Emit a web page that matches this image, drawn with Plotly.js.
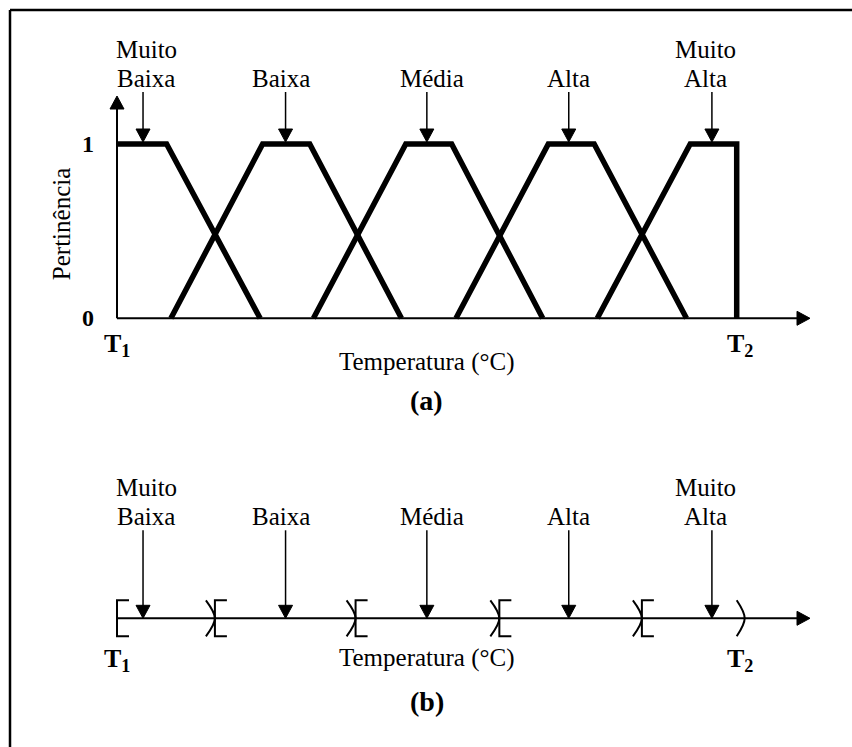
<!DOCTYPE html>
<html>
<head>
<meta charset="utf-8">
<script src="https://cdn.plot.ly/plotly-3.0.1.min.js"></script>
<style>html,body{margin:0;padding:0;background:#fff;}#chart{width:852px;height:747px;}</style>
</head>
<body>
<div id="chart"></div>
<script>
// ---- data (temperature scale: T1 = 0, T2 = 100) ----
const categories = ["Muito Baixa", "Baixa", "Média", "Alta", "Muito Alta"];
const muitoBaixaX = [0, 8.0, 23.1];
const muitoBaixaY = [1, 1, 0];
const baixaX = [8.7, 23.5, 31.1, 45.9];
const baixaY = [0, 1, 1, 0];
const mediaX = [31.7, 46.6, 54.0, 68.7];
const mediaY = [0, 1, 1, 0];
const altaX = [54.7, 69.6, 77.0, 91.9];
const altaY = [0, 1, 1, 0];
const muitoAltaX = [77.5, 92.5, 100, 100];
const muitoAltaY = [0, 1, 1, 0];
const centers = [4.2, 27.2, 50.0, 72.9, 96.0];          // arrows (plateau centres)
const boundaries = [0, 15.8, 38.5, 61.7, 84.7, 100];     // crisp interval limits (b)
const yTicks = [0, 1];
const yTickLabels = ["0", "1"];
const endLabels = ["T<sub>1</sub>", "T<sub>2</sub>"];
const xTitle = "Temperatura (°C)";
const yTitle = "Pertinência";
const panelLabels = ["(a)", "(b)"];

// ---- layout geometry ----
const W = 852, H = 747;
const X0PX = 117, PXU = 6.197;             // px of T1, px per unit
const xmin = -X0PX / PXU, xmax = (W - X0PX) / PXU;
const Y0PX = 318.3, Y1PX = 144, YPU = Y0PX - Y1PX;
const yRange = [-(H - Y0PX) / YPU, Y0PX / YPU];
const B0PX = 618.3;
const y2Range = [-(H - B0PX), B0PX];
const xEnd = (810 - X0PX) / PXU;
const yEnd = (Y0PX - 96) / YPU;
const FONT = "'Liberation Serif', 'Times New Roman', serif";
const labelShift = [3, -5, 5, 0, -6];
const u = px => px / PXU;

const traces = [];
[[muitoBaixaX, muitoBaixaY], [baixaX, baixaY], [mediaX, mediaY], [altaX, altaY], [muitoAltaX, muitoAltaY]]
  .forEach(([x, y], i) => traces.push({
    type: "scatter", mode: "lines", x: x, y: y, name: categories[i],
    line: {color: "#000", width: 5.5}, cliponaxis: false, hoverinfo: "skip"
  }));

// brackets on panel (b)
const BH = 18, SER = u(12), DEP = u(9);
const bLine = {color: "#000", width: 2};
boundaries.forEach((b, i) => {
  if (i > 0) {
    const last = i === boundaries.length - 1;
    const xe = last ? b : b - DEP, xa = last ? b + u(8) : b;
    traces.push({type: "scatter", mode: "lines", xaxis: "x", yaxis: "y2",
      x: [xe, xa, xe], y: [BH, 0, -BH], line: Object.assign({shape: "spline"}, bLine),
      cliponaxis: false, hoverinfo: "skip"});
  }
  if (i < boundaries.length - 1) {
    traces.push({type: "scatter", mode: "lines", xaxis: "x", yaxis: "y2",
      x: [b + SER, b, b, b + SER], y: [BH, BH, -BH, -BH], line: bLine,
      cliponaxis: false, hoverinfo: "skip"});
  }
});

// arrows: shaft + filled head, per y-axis
const HL = 13, HW = 7;  // head length / half-width in px
function arrows(list, yaxis, ypx, width) {
  const sx = [], sy = [], hx = [], hy = [];
  list.forEach(([tx, ty, dir, s0]) => {
    if (dir === "down") {
      sx.push(tx, tx, null); sy.push(s0, ty + HL * 0.5 * ypx, null);
      hx.push(tx - u(HW), tx + u(HW), tx, tx - u(HW), null);
      hy.push(ty + HL * ypx, ty + HL * ypx, ty, ty + HL * ypx, null);
    } else if (dir === "up") {
      sx.push(tx, tx, null); sy.push(s0, ty - HL * 0.5 * ypx, null);
      hx.push(tx - u(HW), tx + u(HW), tx, tx - u(HW), null);
      hy.push(ty - HL * ypx, ty - HL * ypx, ty, ty - HL * ypx, null);
    } else {
      sx.push(s0, tx - u(HL * 0.5), null); sy.push(ty, ty, null);
      hx.push(tx - u(HL), tx - u(HL), tx, tx - u(HL), null);
      hy.push(ty - HW * ypx, ty + HW * ypx, ty, ty - HW * ypx, null);
    }
  });
  traces.push({type: "scatter", mode: "lines", xaxis: "x", yaxis: yaxis, x: sx, y: sy,
    line: {color: "#000", width: width}, cliponaxis: false, hoverinfo: "skip"});
  traces.push({type: "scatter", mode: "lines", xaxis: "x", yaxis: yaxis, x: hx, y: hy,
    fill: "toself", fillcolor: "#000", line: {color: "#000", width: 1}, cliponaxis: false, hoverinfo: "skip"});
}
const ya = 1 / YPU, yb = 1;
arrows([[xEnd, 0, "right", 0], [0, yEnd, "up", 0]], "y", ya, 2);
arrows([[xEnd, 0, "right", 0]], "y2", yb, 2);
arrows(centers.map(c => [c, 1 + 2 * ya, "down", 1 + 52 * ya]), "y", ya, 1.5);
arrows(centers.map(c => [c, 0, "down", 88]), "y2", yb, 1.5);

const ann = [];
const txt = (o) => ann.push(Object.assign({showarrow: false, font: {family: FONT, size: 25, color: "#000"},
  xanchor: "center", yanchor: "middle"}, o));
const bold = (s) => ({family: FONT, size: s, color: "#000", weight: "bold"});

yTicks.forEach((v, i) => txt({x: 0, y: v, xref: "x", yref: "y", xshift: -29, text: yTickLabels[i], font: bold(24)}));
txt({x: 0, y: 0.54, xref: "x", yref: "y", xshift: -56, text: yTitle, textangle: -90});
[["y", -27], ["y2", -42]].forEach(([yr, ys]) => {
  txt({x: boundaries[0], y: 0, xref: "x", yref: yr, yshift: ys, text: endLabels[0], font: bold(26)});
  txt({x: boundaries[boundaries.length - 1], y: 0, xref: "x", yref: yr, xshift: 3, yshift: ys, text: endLabels[1], font: bold(26)});
});
txt({x: 50, y: 0, xref: "x", yref: "y", yshift: -44, text: xTitle});
txt({x: 50, y: 0, xref: "x", yref: "y2", yshift: -40, text: xTitle});
txt({x: 50, y: 0, xref: "x", yref: "y", yshift: -82, text: panelLabels[0], font: bold(28)});
txt({x: 50, y: 0, xref: "x", yref: "y2", yshift: -83, text: panelLabels[1], font: bold(28)});

categories.forEach((c, i) => {
  const words = c.split(" ");
  const lines = words.length > 1 ? [words[0], words.slice(1).join(" ")] : [c];
  txt({x: centers[i], y: 1, xref: "x", yref: "y", xshift: labelShift[i], yshift: 66, text: lines[lines.length - 1]});
  if (lines.length > 1) txt({x: centers[i], y: 1, xref: "x", yref: "y", xshift: labelShift[i], yshift: 95, text: lines[0]});
  txt({x: centers[i], y: 0, xref: "x", yref: "y2", xshift: labelShift[i], yshift: 102, text: lines[lines.length - 1]});
  if (lines.length > 1) txt({x: centers[i], y: 0, xref: "x", yref: "y2", xshift: labelShift[i], yshift: 131, text: lines[0]});
});

const fx = 10 / W, fy = 1 - 10 / H;
const layout = {
  width: W, height: H, margin: {l: 0, r: 0, t: 0, b: 0},
  paper_bgcolor: "#fff", plot_bgcolor: "#fff", showlegend: false, hovermode: false,
  xaxis: {range: [xmin, xmax], visible: false, fixedrange: true},
  yaxis: {range: yRange, visible: false, fixedrange: true},
  yaxis2: {range: y2Range, visible: false, overlaying: "y", fixedrange: true},
  annotations: ann,
  shapes: [
    {type: "line", xref: "paper", yref: "paper", x0: fx, y0: fy, x1: 1, y1: fy, line: {color: "#000", width: 2.5}},
    {type: "line", xref: "paper", yref: "paper", x0: fx, y0: fy, x1: fx, y1: 0, line: {color: "#000", width: 2.5}}
  ]
};
Plotly.newPlot("chart", traces, layout, {staticPlot: true, displayModeBar: false});
</script>
</body>
</html>
